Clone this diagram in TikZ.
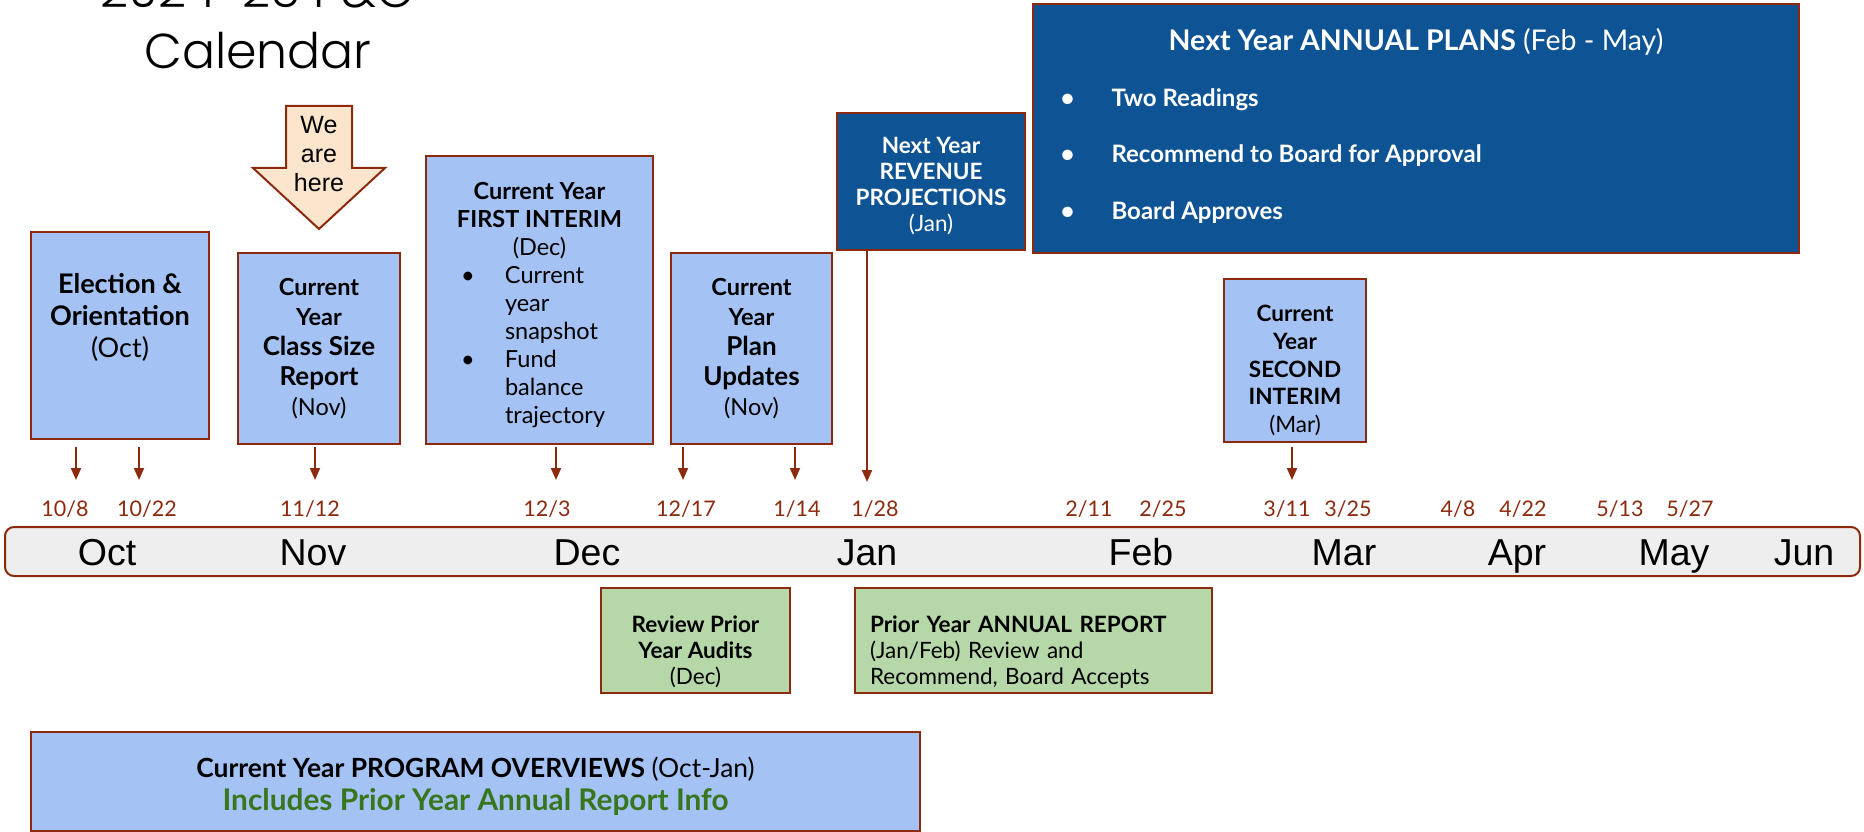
\documentclass[tikz,border=0pt]{standalone}
\usepackage{fontspec}
\setmainfont{Lato}
\newfontfamily\arialfont{Liberation Sans}
\IfFontExistsTF{Poppins Light}{\newfontfamily\titlefont{Poppins Light}}{\newfontfamily\titlefont{Poppins}}
\usetikzlibrary{arrows.meta}

\definecolor{berry}{RGB}{140,42,14}
\definecolor{paleblue}{HTML}{A4C2F4}
\definecolor{deepblue}{HTML}{0E5394}
\definecolor{palegreen}{HTML}{B6D7A8}
\definecolor{peach}{HTML}{FCE5CD}
\definecolor{bargray}{HTML}{EEEEEE}
\definecolor{infogreen}{HTML}{38761D}

\newcommand{\fibline}[2]{\makebox[157pt][l]{\makebox[44pt][l]{#1}#2}}

\tikzset{
	evbox/.style={draw=berry, line width=2pt, fill=paleblue, inner sep=0pt, align=center},
	navybox/.style={evbox, fill=deepblue, text=white},
	auditbox/.style={evbox, fill=palegreen},
	tick/.style={draw=berry, line width=2pt, -{Triangle[width=10pt,length=12pt]}},
	datelabel/.style={text=berry, font=\fontsize{21.5}{26}\selectfont, anchor=base},
	monthlabel/.style={font=\arialfont\fontsize{37.5}{45}\selectfont, anchor=base},
	titletext/.style={font=\titlefont\fontsize{49}{61}\selectfont, anchor=base},
	planitem/.style={text=white, font=\fontsize{24}{28}\selectfont\bfseries, anchor=base west},
}

\begin{document}
\begin{tikzpicture}[x=1pt, y=-1pt]
		%%%%% START %%%%%
		\useasboundingbox (0,0) rectangle (1864,832);
		
		\node[titletext] (title1) at (258,8) {2024-25 P\&O};
		\node[titletext] (title2) at (258,69) {Calendar};
		
		\draw[draw=berry, line width=2pt, fill=peach] (286,106) -- (352,106) -- (352,168) -- (385,168) -- (319,229) -- (253,168) -- (286,168) -- cycle;
		\node[font=\arialfont\fontsize{25}{29}\selectfont, align=center] (here) at (319,154) {We\\are\\here};
		
		\node[evbox, minimum width=178, minimum height=207, font=\fontsize{27}{31.7}\selectfont] (elect) at (120,335.5) {\textbf{Election \&}\\\textbf{Orientation}\\(Oct)\\[8pt]\mbox{}};
		\node[evbox, minimum width=162, minimum height=191, font=\fontsize{23.5}{30}\selectfont] (csize) at (319,348.5) {\textbf{Current}\\\textbf{Year}\\{\fontsize{26}{30}\selectfont\bfseries Class Size}\\{\fontsize{26}{30}\selectfont\bfseries Report}\\(Nov)};
		\node[evbox, minimum width=227, minimum height=288, font=\fontsize{23.5}{28}\selectfont] (first) at (539.5,300) {\mbox{}\\[-1pt]\textbf{Current Year}\\\textbf{FIRST INTERIM}\\(Dec)\\\fibline{\textbullet}{Current}\\\fibline{}{year}\\\fibline{}{snapshot}\\\fibline{\textbullet}{Fund}\\\fibline{}{balance}\\\fibline{}{trajectory}};
		\node[evbox, minimum width=161, minimum height=191, font=\fontsize{23.5}{30}\selectfont] (plan) at (751.5,348.5) {\textbf{Current}\\\textbf{Year}\\{\fontsize{26}{30}\selectfont\bfseries Plan}\\{\fontsize{26}{30}\selectfont\bfseries Updates}\\(Nov)};
		
		\node[navybox, minimum width=188, minimum height=137, font=\fontsize{22.5}{26}\selectfont] (rev) at (931,181.5) {\mbox{}\\\textbf{Next Year}\\\textbf{REVENUE}\\\textbf{PROJECTIONS}\\(Jan)};
		
		\node[navybox, minimum width=766, minimum height=249] (plans) at (1416,128.5) {};
		\node[text=white, font=\fontsize{28.5}{34}\selectfont, anchor=base] (planstitle) at (1416,51) {\textbf{Next Year ANNUAL PLANS} (Feb - May)};
		\foreach \txt [count=\i] in {Two Readings, Recommend to Board for Approval, Board Approves}
			\node[planitem] (planitem\i) at (1057,51+56*\i) {\makebox[51pt][l]{\textbullet}\txt};
		
		\node[evbox, minimum width=142, minimum height=163, font=\fontsize{22.5}{27.7}\selectfont] (second) at (1295,360.5) {\mbox{}\\[9pt]\textbf{Current}\\\textbf{Year}\\\textbf{SECOND}\\\textbf{INTERIM}\\(Mar)};
		
		\foreach \x [count=\i] in {76,139,315,556,683,795,1292} {
			\coordinate (tick\i) at (\x,447);
			\draw[tick] (tick\i) -- ++(0,33);
		}
		\draw[tick] ([xshift=-64pt]rev.south) -- ++(0,231);
		
		\foreach \x/\d [count=\i] in {65/{10/8}, 147/{10/22}, 310/{11/12}, 547/{12/3}, 686/{12/17}, 797/{1/14}, 875/{1/28}, 1089/{2/11}, 1163/{2/25}, 1287/{3/11}, 1348/{3/25}, 1458/{4/8}, 1523/{4/22}, 1620/{5/13}, 1690/{5/27}}
			\node[datelabel] (date\i) at (\x,516) {\d};
		
		\node[draw=berry, line width=2pt, fill=bargray, rounded corners=9pt, minimum width=1855, minimum height=49, inner sep=0pt] (bar) at (932.5,551.5) {};
		\foreach \m/\x in {Oct/107, Nov/313, Dec/587, Jan/867, Feb/1141, Mar/1344, Apr/1517, May/1674, Jun/1804}
			\node[monthlabel] (month-\m) at (\x,565) {\m};
		
		\node[auditbox, minimum width=189, minimum height=105, font=\fontsize{22.5}{26}\selectfont] (audit) at (695.5,640.5) {\mbox{}\\[13.5pt]\textbf{Review Prior}\\\textbf{Year Audits}\\(Dec)};
		\node[auditbox, minimum width=357, minimum height=105, font=\fontsize{22.5}{26}\selectfont, align=left, text width=327pt] (report) at (1033.5,640.5) {\mbox{}\\[13.5pt]\textbf{Prior Year ANNUAL REPORT}\\(Jan/Feb) Review and\\Recommend, Board Accepts};
		
		\node[evbox, minimum width=889, minimum height=99, font=\fontsize{26.4}{33}\selectfont] (prog) at (475.5,781.5) {\mbox{}\\[-3pt]\textbf{Current Year PROGRAM OVERVIEWS} (Oct-Jan)\\{\fontsize{29.8}{33}\selectfont\bfseries\color{infogreen}Includes Prior Year Annual Report Info}};
		
		%%%%% END %%%%%
\end{tikzpicture}
\end{document}
